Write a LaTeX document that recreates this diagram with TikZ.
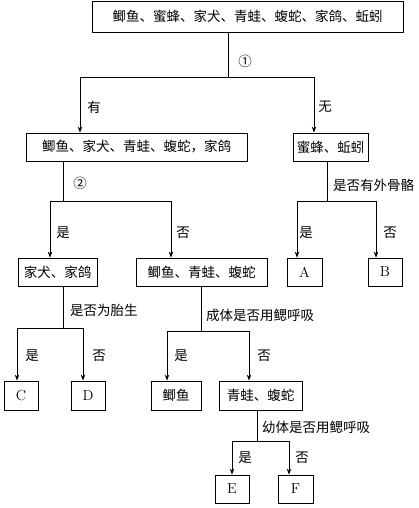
\documentclass[tikz,border=0pt]{standalone}
\usepackage{fontspec}
\usepackage{tikz}
\usetikzlibrary{arrows.meta}
\newfontfamily\cjk{Noto Sans CJK SC}
\tikzset{%
  keybox/.style={draw, line width=0.8pt, inner sep=0pt, text centered, font=\fontsize{13.5}{15}\selectfont\cjk},%
  keyletter/.style={keybox, font=\fontsize{14.5}{16}\selectfont},%
  keylbl/.style={inner sep=0pt, font=\fontsize{13.5}{15}\selectfont\cjk},%
  keyline/.style={line width=0.8pt},%
  keyarr/.style={line width=0.8pt, -{Stealth[length=6pt,width=4.5pt]}}%
}
\begin{document}
\begin{tikzpicture}[x=1pt,y=-1pt]%
\useasboundingbox (0,0) rectangle (418,508);%
% boxes
\node[keybox, minimum width=311pt, minimum height=31pt] (all) at (247.5,16.5) {鲫鱼、蜜蜂、家犬、青蛙、蝮蛇、家鸽、蚯蚓};%
\node[keybox, minimum width=221pt, minimum height=28pt] (bone) at (136.5,147) {鲫鱼、家犬、青蛙、蝮蛇，家鸽};%
\node[keybox, minimum width=75pt, minimum height=28pt] (nobone) at (330.5,147) {蜜蜂、蚯蚓};%
\node[keybox, minimum width=79pt, minimum height=28pt] (warm) at (57.5,272) {家犬、家鸽};%
\node[keybox, minimum width=131pt, minimum height=28pt] (cold) at (201.5,272) {鲫鱼、青蛙、蝮蛇};%
\node[keyletter, minimum width=35pt, minimum height=28pt] (A) at (304.5,272) {A};%
\node[keyletter, minimum width=34pt, minimum height=28pt] (B) at (385,272) {B};%
\node[keyletter, minimum width=34pt, minimum height=29pt] (C) at (21,395.5) {C};%
\node[keyletter, minimum width=34pt, minimum height=29pt] (D) at (88,395.5) {D};%
\node[keybox, minimum width=50pt, minimum height=29pt] (fish) at (176,395.5) {鲫鱼};%
\node[keybox, minimum width=83pt, minimum height=29pt] (frog) at (260.5,395.5) {青蛙、蝮蛇};%
\node[keyletter, minimum width=34pt, minimum height=28pt] (E) at (232,489) {E};%
\node[keyletter, minimum width=35pt, minimum height=28pt] (F) at (295.5,489) {F};%
% junctions
\coordinate (j1) at (228,77);%
\coordinate (j1l) at (80,77);%
\coordinate (j1r) at (314,77);%
\coordinate (j2) at (63,201);%
\coordinate (j2l) at (50,201);%
\coordinate (j2r) at (171,201);%
\coordinate (j3) at (327,201);%
\coordinate (j3l) at (297,201);%
\coordinate (j3r) at (376,201);%
\coordinate (j4) at (63,328);%
\coordinate (j4l) at (17,328);%
\coordinate (j4r) at (83,328);%
\coordinate (j5) at (201,331);%
\coordinate (j5l) at (167,331);%
\coordinate (j5r) at (249,331);%
\coordinate (j6) at (257,441);%
\coordinate (j6l) at (232,441);%
\coordinate (j6r) at (289,441);%
% connectors
\draw[keyline] (j1 |- all.south) -- (j1);%
\draw[keyline] (j1l) -- (j1r);%
\draw[keyarr] (j1l) -- (j1l |- bone.north);%
\draw[keyarr] (j1r) -- (j1r |- nobone.north);%
\draw[keyline] (j2 |- bone.south) -- (j2);%
\draw[keyline] (j2l) -- (j2r);%
\draw[keyarr] (j2l) -- (j2l |- warm.north);%
\draw[keyarr] (j2r) -- (j2r |- cold.north);%
\draw[keyline] (j3 |- nobone.south) -- (j3);%
\draw[keyline] (j3l) -- (j3r);%
\draw[keyarr] (j3l) -- (j3l |- A.north);%
\draw[keyarr] (j3r) -- (j3r |- B.north);%
\draw[keyline] (j4 |- warm.south) -- (j4);%
\draw[keyline] (j4l) -- (j4r);%
\draw[keyarr] (j4l) -- (j4l |- C.north);%
\draw[keyarr] (j4r) -- (j4r |- D.north);%
\draw[keyline] (j5 |- cold.south) -- (j5);%
\draw[keyline] (j5l) -- (j5r);%
\draw[keyarr] (j5l) -- (j5l |- fish.north);%
\draw[keyarr] (j5r) -- (j5r |- frog.north);%
\draw[keyline] (j6 |- frog.south) -- (j6);%
\draw[keyline] (j6l) -- (j6r);%
\draw[keyarr] (j6l) -- (j6l |- E.north);%
\draw[keyarr] (j6r) -- (j6r |- F.north);%
% labels
\node[keylbl] (q1) at (245,61) {①};%
\node[keylbl] (y1) at (94,107) {有};%
\node[keylbl] (n1) at (325,107) {无};%
\node[keylbl] (q2) at (80,183) {②};%
\node[keylbl] (y2) at (63,233) {是};%
\node[keylbl] (n2) at (183,233) {否};%
\node[keylbl, anchor=west] (q3) at (333,185) {是否有外骨骼};%
\node[keylbl] (y3) at (306,233) {是};%
\node[keylbl] (n3) at (390,233) {否};%
\node[keylbl, anchor=west] (q4) at (70,310) {是否为胎生};%
\node[keylbl] (y4) at (32,356) {是};%
\node[keylbl] (n4) at (99,356) {否};%
\node[keylbl, anchor=west] (q5) at (206,315) {成体是否用鳃呼吸};%
\node[keylbl] (y5) at (181,356) {是};%
\node[keylbl] (n5) at (264,356) {否};%
\node[keylbl, anchor=west] (q6) at (262,427) {幼体是否用鳃呼吸};%
\node[keylbl] (y6) at (245,458) {是};%
\node[keylbl] (n6) at (302,458) {否};%
\end{tikzpicture}
\end{document}
